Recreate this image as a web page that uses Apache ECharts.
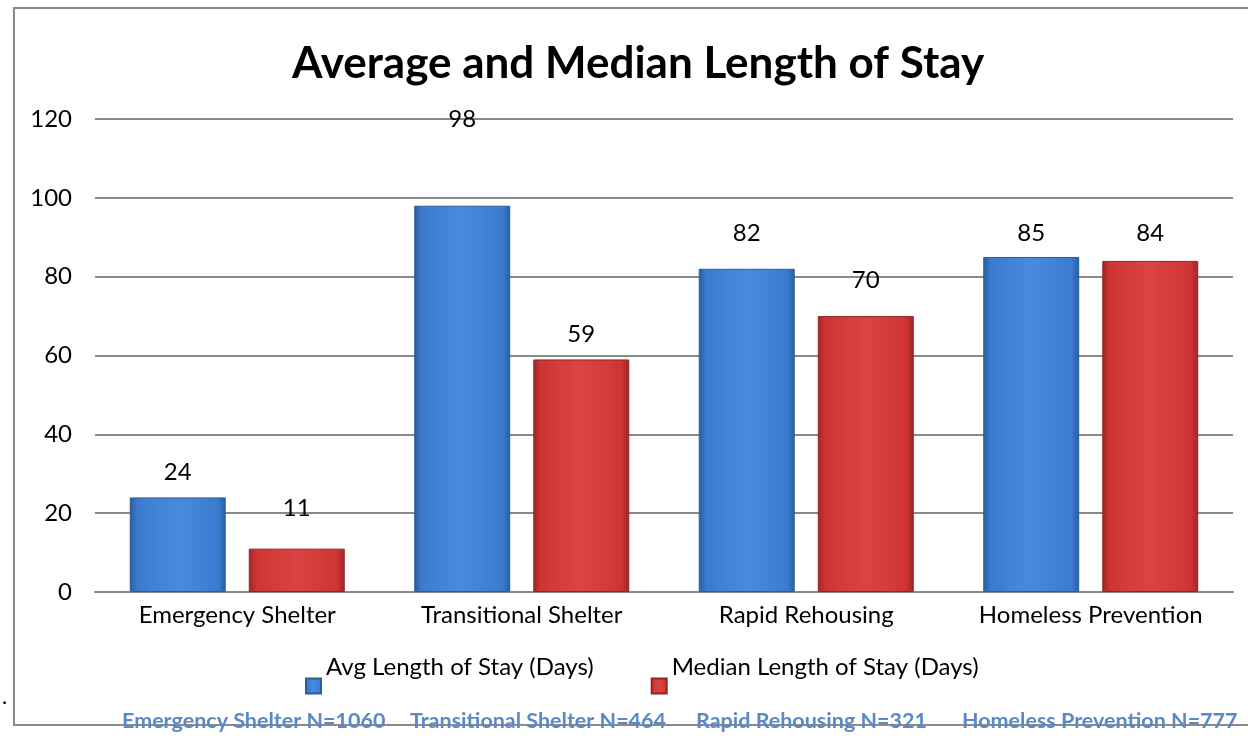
<!DOCTYPE html>
<html>
<head>
<meta charset="utf-8">
<script src="https://cdn.jsdelivr.net/npm/echarts@6/dist/echarts.min.js"></script>
<style>
  html, body { margin: 0; padding: 0; background: #fff; }
  #chart { width: 1248px; height: 736px; }
</style>
</head>
<body>
<div id="chart"></div>
<script>
const categories = ["Emergency Shelter", "Transitional Shelter", "Rapid Rehousing", "Homeless Prevention"];
const avgStay = [24, 98, 82, 85];
const medianStay = [11, 59, 70, 84];
const yTicks = [0, 20, 40, 60, 80, 100, 120];
const sampleNotes = ["Emergency Shelter N=1060", "Transitional Shelter N=464", "Rapid Rehousing N=321", "Homeless Prevention N=777"];

// label gaps above each bar, as in the original
const avgLabelGap = [13, 74, 24, 12];
const medLabelGap = [28, 13, 24, 16];

const font = "Lato, 'Open Sans', sans-serif";

function barColor(mid, edge, light) {
  return {
    type: "linear", x: 0, y: 0, x2: 1, y2: 0,
    colorStops: [
      { offset: 0, color: edge },
      { offset: 0.08, color: mid },
      { offset: 0.5, color: light },
      { offset: 0.92, color: mid },
      { offset: 1, color: edge },
    ],
  };
}
const blue = barColor("#3a7bd0", "#2a5c9e", "#4a8ade");
const red = barColor("#cf3434", "#9c2626", "#db4444");

function withGaps(values, gaps) {
  return values.map((v, i) => ({ value: v, label: { distance: gaps[i] } }));
}

const chart = echarts.init(document.getElementById("chart"));
chart.setOption({
  animation: false,
  backgroundColor: "#fff",
  title: {
    text: "Average and Median Length of Stay",
    left: 287,
    top: 37,
    textStyle: { fontFamily: font, fontSize: 44, fontWeight: "bold", color: "#000" },
  },
  grid: { left: 95, right: 15, top: 119, bottom: 144 },
  legend: {
    top: 650,
    left: 300,
    itemWidth: 15,
    itemHeight: 15,
    itemGap: 57,
    icon: "rect",
    formatter: "{t|{name}}",
    textStyle: {
      rich: { t: { fontFamily: font, fontSize: 24, color: "#000", padding: [0, 0, 38, 0] } },
    },
    data: ["Avg Length of Stay (Days)", "Median Length of Stay (Days)"],
  },
  xAxis: {
    type: "category",
    data: categories,
    axisTick: { show: false },
    axisLine: { lineStyle: { color: "#8a8a8a", width: 2 } },
    axisLabel: { fontFamily: font, fontSize: 24, color: "#000", margin: 11, interval: 0, hideOverlap: false },
  },
  yAxis: {
    type: "value",
    min: yTicks[0],
    max: yTicks[yTicks.length - 1],
    interval: 20,
    axisLine: { show: false },
    axisTick: { show: false },
    splitLine: { lineStyle: { color: "#8a8a8a", width: 2 } },
    axisLabel: { fontFamily: font, fontSize: 24, color: "#000", margin: 23 },
  },
  series: [
    {
      name: "Avg Length of Stay (Days)",
      type: "bar",
      data: withGaps(avgStay, avgLabelGap),
      barWidth: 96,
      barGap: "24%",
      itemStyle: { color: blue, borderColor: "#2d5e9c", borderWidth: 1 },
      label: { show: true, position: "top", fontFamily: font, fontSize: 24, color: "#000" },
    },
    {
      name: "Median Length of Stay (Days)",
      type: "bar",
      data: withGaps(medianStay, medLabelGap),
      barWidth: 96,
      itemStyle: { color: red, borderColor: "#962424", borderWidth: 1 },
      label: { show: true, position: "top", fontFamily: font, fontSize: 24, color: "#000" },
    },
  ],
  graphic: [
    {
      type: "rect",
      shape: { x: 14, y: 8, width: 1250, height: 717 },
      style: { fill: null, stroke: "#8a8a8a", lineWidth: 2 },
      z: -1,
    },
    { type: "text", left: 2, top: 686, style: { text: ".", fontFamily: font, fontSize: 22, fill: "#000" } },
  ].concat(sampleNotes.map((t, i) => ({
    type: "text",
    left: [122, 410, 696, 962][i],
    top: 710,
    z: 10,
    style: { text: t, fontFamily: font, fontSize: 21.5, fontWeight: "bold", fill: "#5b89c5" },
  }))),
});
</script>
</body>
</html>
